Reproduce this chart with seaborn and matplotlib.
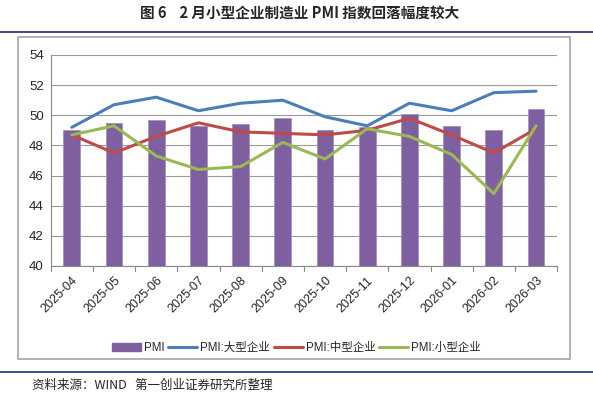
import numpy as np
import pandas as pd
import matplotlib
matplotlib.use("Agg")
import matplotlib.pyplot as plt
import matplotlib.patches as mpatches
from matplotlib.lines import Line2D
import seaborn as sns

# === Data ===
months = ["2025-04", "2025-05", "2025-06", "2025-07", "2025-08", "2025-09",
          "2025-10", "2025-11", "2025-12", "2026-01", "2026-02", "2026-03"]
pmi = [49.0, 49.5, 49.7, 49.3, 49.4, 49.8, 49.0, 49.2, 50.1, 49.3, 49.0, 50.4]
pmi_large = [49.2, 50.7, 51.2, 50.3, 50.8, 51.0, 49.9, 49.3, 50.8, 50.3, 51.5, 51.6]
pmi_medium = [48.7, 47.5, 48.6, 49.5, 48.9, 48.8, 48.7, 49.0, 49.8, 48.7, 47.5, 49.1]
pmi_small = [48.7, 49.3, 47.3, 46.4, 46.6, 48.2, 47.1, 49.1, 48.6, 47.4, 44.8, 49.3]

series_names = ["PMI:大型企业", "PMI:中型企业", "PMI:小型企业"]
colors = {"PMI": "#7E5FA0", "PMI:大型企业": "#4A7EBB",
          "PMI:中型企业": "#BE4B48", "PMI:小型企业": "#98B954"}

df = pd.DataFrame({"month": months, "PMI": pmi, "PMI:大型企业": pmi_large,
                   "PMI:中型企业": pmi_medium, "PMI:小型企业": pmi_small})
df["pos"] = np.arange(len(df))
long_df = df.melt(id_vars=["month", "pos"], value_vars=series_names,
                  var_name="series", value_name="value")

sns.set_theme(style="white")
plt.rcParams["font.family"] = ["Liberation Sans", "Noto Sans CJK SC", "DejaVu Sans"]

fig = plt.figure(figsize=(5.93, 3.97), dpi=100)
ax = fig.add_axes([0.0855, 0.33, 0.854, 0.5315])

# bars
sns.barplot(data=df, x="pos", y="PMI", color=colors["PMI"], saturation=1,
            width=0.4, edgecolor="#A08CC0", linewidth=0.5, ax=ax, zorder=2)
# lines
sns.lineplot(data=long_df, x="pos", y="value", hue="series",
             palette=colors, hue_order=series_names, linewidth=2.2,
             legend=False, ax=ax, zorder=3)

ax.set_ylim(40, 54)
ax.set_yticks(range(40, 55, 2))
ax.set_xlim(-0.5, len(months) - 0.5)
ax.set_xticks(np.arange(len(months)))
ax.set_xticklabels(months, rotation=45, ha="right", rotation_mode="anchor",
                   fontsize=9)
ax.tick_params(axis="y", labelsize=9.5, length=3, color="#888888", pad=2)
ax.tick_params(axis="x", length=0, pad=6)
# boundary tick marks under the x axis
for b in np.arange(-0.5, len(months) + 0.5, 1):
    ax.plot([b, b], [40, 39.7], color="#888888", lw=0.8, clip_on=False, zorder=1)
ax.set_xlabel("")
ax.set_ylabel("")
ax.yaxis.grid(True, color="#999999", linewidth=0.8)
ax.set_axisbelow(True)
for s in ["top", "right"]:
    ax.spines[s].set_visible(False)
for s in ["left", "bottom"]:
    ax.spines[s].set_color("#888888")
    ax.spines[s].set_linewidth(0.8)

# legend
handles = [mpatches.Patch(color=colors["PMI"], label="PMI")]
handles += [Line2D([], [], color=colors[n], lw=2.2, label=n) for n in series_names]
fig.legend(handles=handles, loc="center", bbox_to_anchor=(0.5, 0.123),
           ncol=4, frameon=False, fontsize=8.3, handlelength=2.5,
           handletextpad=0.25, columnspacing=0.35)

# chart frame
fig.patches.append(mpatches.Rectangle((18 / 593, 1 - 359 / 397), 552 / 593, 322 / 397,
                                      transform=fig.transFigure, fill=False,
                                      edgecolor="#A6A6A6", linewidth=1.2))
# navy rules
for y in [1 - 32 / 397, 1 - 372 / 397]:
    fig.add_artist(Line2D([0, 1], [y, y], transform=fig.transFigure,
                          color="#2E3A87", linewidth=1.3))

fig.text(0.505, 1 - 13 / 397, "图 6    2 月小型企业制造业 PMI 指数回落幅度较大",
         ha="center", va="center", fontsize=10.5, fontweight="bold",
         family=["Noto Sans CJK SC", "DejaVu Sans"])
fig.text(32 / 593, 1 - 385 / 397, "资料来源：WIND   第一创业证券研究所整理",
         ha="left", va="center", fontsize=9,
         family=["Noto Sans CJK SC", "DejaVu Sans"])

fig.savefig("out.png", dpi=100)
